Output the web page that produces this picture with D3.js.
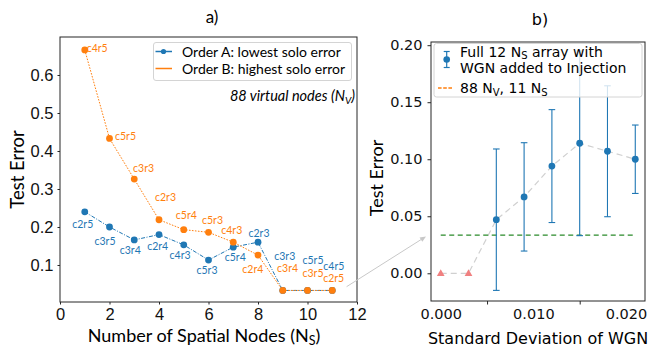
<!DOCTYPE html>
<meta charset="utf-8">
<style>
body { margin: 0; background: #fff; }
svg { display: block; font-family: Lato, sans-serif; }
.axis path { display: none; }
.axis line { stroke: #262626; }
.axis text { fill: #111; }
.frame { fill: none; stroke: #262626; stroke-width: 1; }
.panel-b text { font-family: "DejaVu Sans", sans-serif; }
</style>
<svg width="648" height="348"></svg>
<script src="https://cdnjs.cloudflare.com/ajax/libs/d3/7.8.5/d3.min.js"></script>
<script>

// panel a) : test error vs number of spatial nodes
var spatialNodes = [1, 2, 3, 4, 5, 6, 7, 8, 9, 10, 11];
var orderA = [0.240, 0.200, 0.166, 0.180, 0.153, 0.113, 0.147, 0.160, 0.033, 0.033, 0.033];
var orderB = [0.666, 0.433, 0.326, 0.219, 0.193, 0.186, 0.160, 0.126, 0.033, 0.033, 0.033];
var labelsA = ["c2r5", "c3r5", "c3r4", "c2r4", "c4r3", "c5r3", "c5r4", "c2r3", "c3r3", "c5r5", "c4r5"];
var labelsB = ["c4r5", "c5r5", "c3r3", "c2r3", "c5r4", "c5r3", "c4r3", "c2r4", "c3r4", "c3r5", "c2r5"];
var xTicksA = [0, 2, 4, 6, 8, 10, 12];
var yTicksA = [0.1, 0.2, 0.3, 0.4, 0.5, 0.6];

// panel b) : test error vs std of white gaussian noise
var noiseZero = [0, 0.003];
var errZero = [0, 0];
var noiseStd = [0.006, 0.009, 0.012, 0.015, 0.018, 0.021];
var noiseErr = [0.047, 0.067, 0.094, 0.114, 0.107, 0.100];
var noiseSpread = [0.062, 0.0475, 0.0495, 0.081, 0.0574, 0.030];
var baseline11 = 0.0335;
var xTicksB = [0, 0.01, 0.02];
var xMinorB = [0.005, 0.015];
var yTicksB = [0, 0.05, 0.1, 0.15, 0.2];

// label nudges (px) for the hand placed annotations
var nudgeA = [[-2,13],[-4.5,14],[-4,10.7],[-1.3,11.3],[-3.7,10],[-1.5,10.7],[2,10],[1,-9],[2,-34.5],[5.5,-29.7],[1.6,-24]];
var nudgeB = [[12.4,-2],[16,-2.3],[9.3,-11],[6.5,-22.7],[2.6,-14.7],[4,-12.3],[-1.5,-12.3],[-5.2,14],[4.8,-21.7],[5.5,-17.4],[1.4,-11.7]];

var blue = "#1f77b4", orange = "#ff7f0e";

var svg = d3.select("svg");
svg.append("rect").attr("width", 648).attr("height", 348).attr("fill", "#fff");

/* ---------- panel a ---------- */
var xa = d3.scaleLinear().domain([0, 12]).range([60, 357]),
    ya = d3.scaleLinear().domain([0.0026, 0.70]).range([302, 37]);

var ga = svg.append("g").attr("class", "panel-a");

ga.append("g")
    .attr("class", "axis")
    .attr("transform", "translate(0," + ya.range()[0] + ")")
    .call(d3.axisBottom(xa).tickValues(xTicksA).tickSize(2.5).tickPadding(3.5).tickFormat(d3.format("d")))
    .selectAll("text").style("font-size", "16.5px");

ga.append("g")
    .attr("class", "axis")
    .attr("transform", "translate(" + xa.range()[0] + ",0)")
    .call(d3.axisLeft(ya).tickValues(yTicksA).tickSize(2.5).tickPadding(4).tickFormat(d3.format(".1f")))
    .selectAll("text").style("font-size", "16.5px");

ga.append("rect").attr("class", "frame")
    .attr("x", xa.range()[0]).attr("y", ya.range()[1])
    .attr("width", xa.range()[1] - xa.range()[0])
    .attr("height", ya.range()[0] - ya.range()[1]);

var seriesA = spatialNodes.map(function(n, i) { return {x: n, y: orderA[i], label: labelsA[i], nudge: nudgeA[i]}; }),
    seriesB = spatialNodes.map(function(n, i) { return {x: n, y: orderB[i], label: labelsB[i], nudge: nudgeB[i]}; });

var lineA = d3.line().x(function(d) { return xa(d.x); }).y(function(d) { return ya(d.y); });

ga.append("path").datum(seriesA)
    .attr("d", lineA).attr("fill", "none")
    .attr("stroke", blue).attr("stroke-width", 1)
    .attr("stroke-dasharray", "4,1.5,1,1.5");

ga.append("path").datum(seriesB)
    .attr("d", lineA).attr("fill", "none")
    .attr("stroke", orange).attr("stroke-width", 1)
    .attr("stroke-dasharray", "1.6,1.4");

[[seriesA, blue], [seriesB, orange]].forEach(function(s) {
  ga.append("g").selectAll("circle")
      .data(s[0]).enter().append("circle")
      .attr("cx", function(d) { return xa(d.x); })
      .attr("cy", function(d) { return ya(d.y); })
      .attr("r", 3.4)
      .attr("fill", s[1]);
  ga.append("g").selectAll("text")
      .data(s[0]).enter().append("text")
      .attr("x", function(d) { return xa(d.x) + d.nudge[0]; })
      .attr("y", function(d) { return ya(d.y) + d.nudge[1]; })
      .attr("dy", "0.35em")
      .attr("text-anchor", "middle")
      .style("font-size", "10.5px")
      .attr("fill", s[1])
      .text(function(d) { return d.label; });
});

// legend
var lega = ga.append("g");
lega.append("rect")
    .attr("x", 153.5).attr("y", 42.5).attr("width", 198).attr("height", 38).attr("rx", 2.5)
    .attr("fill", "#fff").attr("fill-opacity", 0.8).attr("stroke", "#d4d4d4");
lega.append("line").attr("x1", 155.5).attr("x2", 172).attr("y1", 51.5).attr("y2", 51.5)
    .attr("stroke", blue).attr("stroke-width", 1.5);
lega.append("circle").attr("cx", 163.5).attr("cy", 51.5).attr("r", 2.6).attr("fill", blue);
lega.append("line").attr("x1", 155.5).attr("x2", 172).attr("y1", 68.5).attr("y2", 68.5)
    .attr("stroke", orange).attr("stroke-width", 1.5);
lega.append("text").attr("x", 182).attr("y", 56.7).style("font-size", "14px")
    .text("Order A: lowest solo error");
lega.append("text").attr("x", 182).attr("y", 73.7).style("font-size", "14px")
    .text("Order B: highest solo error");

var note = ga.append("text").attr("x", 355).attr("y", 101).attr("text-anchor", "end")
    .style("font-size", "14.5px").style("font-style", "italic");
note.append("tspan").text("88 virtual nodes (N");
note.append("tspan").attr("dy", 3).style("font-size", "10px").text("V");
note.append("tspan").attr("dy", -3).text(")");

ga.append("text").attr("x", 212).attr("y", 23).attr("text-anchor", "middle")
    .style("font-size", "17px").text("a)");

var xla = ga.append("text").attr("x", 204).attr("y", 341.7).attr("text-anchor", "middle")
    .style("font-size", "18px");
xla.append("tspan").text("Number of Spatial Nodes (N");
xla.append("tspan").attr("dy", 3.5).style("font-size", "12.5px").text("S");
xla.append("tspan").attr("dy", -3.5).text(")");

ga.append("text")
    .attr("transform", "translate(23.5," + ((ya.range()[0] + ya.range()[1]) / 2) + ") rotate(-90)")
    .attr("text-anchor", "middle")
    .style("font-size", "18.5px")
    .text("Test Error");

/* ---------- panel b ---------- */
var xb = d3.scaleLinear().domain([-0.00105, 0.02205]).range([431, 645]),
    yb = d3.scaleLinear().domain([-0.0243, 0.2028]).range([301, 42]);

var gb = svg.append("g").attr("class", "panel-b");

gb.append("g")
    .attr("class", "axis")
    .attr("transform", "translate(0," + yb.range()[0] + ")")
    .call(d3.axisBottom(xb).tickValues(xTicksB).tickSize(0).tickPadding(8).tickFormat(d3.format(".3f")))
    .selectAll("text").style("font-size", "14.5px");

gb.append("g")
    .attr("class", "axis")
    .attr("transform", "translate(0," + yb.range()[0] + ")")
    .call(d3.axisBottom(xb).tickValues(xMinorB).tickSize(3.5).tickFormat(""));

gb.append("g")
    .attr("class", "axis")
    .attr("transform", "translate(" + xb.range()[0] + ",0)")
    .call(d3.axisLeft(yb).tickValues(yTicksB).tickSize(3.5).tickPadding(5).tickFormat(d3.format(".2f")))
    .selectAll("text").style("font-size", "14.5px");

gb.append("rect").attr("class", "frame")
    .attr("x", xb.range()[0]).attr("y", yb.range()[1])
    .attr("width", xb.range()[1] - xb.range()[0])
    .attr("height", yb.range()[0] - yb.range()[1]);

var zeroPts = noiseZero.map(function(v, i) { return {x: v, y: errZero[i]}; }),
    noisePts = noiseStd.map(function(v, i) { return {x: v, y: noiseErr[i], e: noiseSpread[i]}; });

var lineB = d3.line().x(function(d) { return xb(d.x); }).y(function(d) { return yb(d.y); });

gb.append("path").datum(zeroPts.concat(noisePts))
    .attr("d", lineB).attr("fill", "none")
    .attr("stroke", "#d0d0d0").attr("stroke-width", 1.2)
    .attr("stroke-dasharray", "6,4");

gb.append("line")
    .attr("x1", xb(0)).attr("x2", xb(0.021))
    .attr("y1", yb(baseline11)).attr("y2", yb(baseline11))
    .attr("stroke", "#2a8a2a").attr("stroke-width", 1.2)
    .attr("stroke-dasharray", "5,3.5");

gb.append("g").selectAll("path")
    .data(zeroPts).enter().append("path")
    .attr("d", d3.symbol().type(d3.symbolTriangle).size(26))
    .attr("transform", function(d) { return "translate(" + xb(d.x) + "," + (yb(d.y) + 0.5) + ")"; })
    .attr("fill", "#f08080");

var bars = gb.append("g").selectAll("g")
    .data(noisePts).enter().append("g")
    .attr("stroke", blue).attr("stroke-width", 1.1);
bars.append("line")
    .attr("x1", function(d) { return xb(d.x); }).attr("x2", function(d) { return xb(d.x); })
    .attr("y1", function(d) { return yb(d.y - d.e); }).attr("y2", function(d) { return yb(d.y + d.e); });
bars.append("line")
    .attr("x1", function(d) { return xb(d.x) - 3.3; }).attr("x2", function(d) { return xb(d.x) + 3.3; })
    .attr("y1", function(d) { return yb(d.y - d.e); }).attr("y2", function(d) { return yb(d.y - d.e); });
bars.append("line")
    .attr("x1", function(d) { return xb(d.x) - 3.3; }).attr("x2", function(d) { return xb(d.x) + 3.3; })
    .attr("y1", function(d) { return yb(d.y + d.e); }).attr("y2", function(d) { return yb(d.y + d.e); });

gb.append("g").selectAll("circle")
    .data(noisePts).enter().append("circle")
    .attr("cx", function(d) { return xb(d.x); })
    .attr("cy", function(d) { return yb(d.y); })
    .attr("r", 3.4)
    .attr("fill", blue);

// legend
var legb = gb.append("g");
legb.append("rect")
    .attr("x", 434).attr("y", 43.5).attr("width", 208).attr("height", 53.5).attr("rx", 2.5)
    .attr("fill", "#fff").attr("fill-opacity", 0.8).attr("stroke", "#d4d4d4");
legb.append("line").attr("x1", 446.7).attr("x2", 446.7).attr("y1", 51.5).attr("y2", 67.5)
    .attr("stroke", blue).attr("stroke-width", 1.2);
legb.append("line").attr("x1", 443.7).attr("x2", 449.7).attr("y1", 51.5).attr("y2", 51.5)
    .attr("stroke", blue).attr("stroke-width", 1.2);
legb.append("line").attr("x1", 443.7).attr("x2", 449.7).attr("y1", 67.5).attr("y2", 67.5)
    .attr("stroke", blue).attr("stroke-width", 1.2);
legb.append("circle").attr("cx", 446.7).attr("cy", 59.5).attr("r", 3.3).attr("fill", blue);
legb.append("line").attr("x1", 438).attr("x2", 452.5).attr("y1", 88).attr("y2", 88)
    .attr("stroke", orange).attr("stroke-width", 1.5).attr("stroke-dasharray", "3.6,1.6");

var l1 = legb.append("text").attr("x", 460).attr("y", 56.5).style("font-size", "14px");
l1.append("tspan").text("Full 12 N");
l1.append("tspan").attr("dy", 2.5).style("font-size", "10px").text("S");
l1.append("tspan").attr("dy", -2.5).text(" array with");
legb.append("text").attr("x", 460).attr("y", 72.5).style("font-size", "14px").text("WGN added to Injection");
var l3 = legb.append("text").attr("x", 460).attr("y", 93.3).style("font-size", "14px");
l3.append("tspan").text("88 N");
l3.append("tspan").attr("dy", 3).style("font-size", "10px").text("V");
l3.append("tspan").attr("dy", -3).text(", 11 N");
l3.append("tspan").attr("dy", 3).style("font-size", "10px").text("S");

gb.append("text").attr("x", 540).attr("y", 25).attr("text-anchor", "middle")
    .style("font-size", "16px").text("b)");

gb.append("text").attr("x", 538).attr("y", 344).attr("text-anchor", "middle")
    .style("font-size", "16px").text("Standard Deviation of WGN");

gb.append("text")
    .attr("transform", "translate(383,178) rotate(-90)")
    .attr("text-anchor", "middle")
    .style("font-family", "Lato, sans-serif")
    .style("font-size", "18px")
    .text("Test Error");

/* ---------- connector arrow from a) to b) ---------- */
var p0 = [xa(11.58), ya(0.0429)],
    p1 = [xb(-0.00159), yb(0.0323)];
var ang = Math.atan2(p1[1] - p0[1], p1[0] - p0[0]);
svg.append("line")
    .attr("x1", p0[0]).attr("y1", p0[1])
    .attr("x2", p1[0] - 5 * Math.cos(ang)).attr("y2", p1[1] - 5 * Math.sin(ang))
    .attr("stroke", "#c8c8c8").attr("stroke-width", 1);
svg.append("path")
    .attr("d", "M0,0L-6,-2.6L-6,2.6Z")
    .attr("transform", "translate(" + p1[0] + "," + p1[1] + ") rotate(" + (ang * 180 / Math.PI) + ")")
    .attr("fill", "#c8c8c8");

</script>
